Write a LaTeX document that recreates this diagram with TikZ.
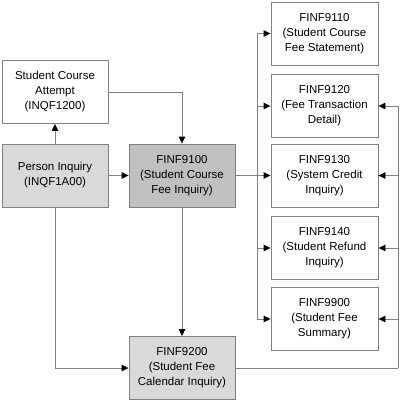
\documentclass[tikz,border=0pt]{standalone}
\usepackage{fontspec}
\setmainfont{Liberation Sans}
\usepackage{tikz}
\usetikzlibrary{arrows.meta}
\definecolor{boxline}{RGB}{128, 128, 128}
\definecolor{lightfill}{RGB}{217, 217, 217}
\definecolor{darkfill}{RGB}{192, 192, 192}

\begin{document}
\begin{tikzpicture}[x=1pt, y=-1pt,
        screen/.style={draw=boxline, line width=0.9pt, fill=white, minimum width=106pt,
            minimum height=63pt, inner sep=0pt, align=center,
            font=\fontsize{11.5}{15}\selectfont},
        link/.style={draw=boxline, line width=0.9pt,
            -{Triangle[length=7pt, width=6.5pt, color=black]}},
        plain/.style={draw=boxline, line width=0.9pt}]
        \useasboundingbox (0,0) rectangle (400,402);

        % 左列 (INQF)
        \node[screen] (sca) at (55,92) {Student Course\\Attempt\\(INQF1200)};
        \node[screen, fill=lightfill] (person) at (55,175.5) {Person Inquiry\\(INQF1A00)};

        % 中列 (FINF9100, FINF9200)
        \node[screen, fill=darkfill] (f9100) at (182,175.5) {FINF9100\\(Student Course\\Fee Inquiry)};
        \node[screen, fill=lightfill] (f9200) at (182,368) {FINF9200\\(Student Fee\\Calendar Inquiry)};

        % 右列
        \node[screen, minimum width=107pt] (f9110) at (324.5,33.5) {FINF9110\\(Student Course\\Fee Statement)};
        \node[screen, minimum width=107pt] (f9120) at (324.5,106) {FINF9120\\(Fee Transaction\\Detail)};
        \node[screen, minimum width=107pt] (f9130) at (324.5,175.5) {FINF9130\\(System Credit\\Inquiry)};
        \node[screen, minimum width=107pt] (f9140) at (324.5,248) {FINF9140\\(Student Refund\\Inquiry)};
        \node[screen, minimum width=107pt] (f9900) at (324.5,319) {FINF9900\\(Student Fee\\Summary)};

        % 连线
        \draw[link] (person) -- (sca);
        \draw[link] (sca.east) -| (f9100.north);
        \draw[link] (person) -- (f9100);
        \draw[link] (person.south) |- (f9200.west);
        \draw[link] (f9100) -- (f9200);
        \draw[link] (f9100) -- (f9130);

        \coordinate (trunk) at (257,175.5);
        \foreach \n in {f9110, f9120, f9140, f9900}
            \draw[link] (trunk) |- (\n.west);

        % 回连 (FINF9200)
        \coordinate (back) at (398,368);
        \draw[plain] (f9200.east) -- (back);
        \foreach \n in {f9120, f9130, f9140, f9900}
            \draw[link] (back) |- (\n.east);
    \end{tikzpicture}
\end{document}
